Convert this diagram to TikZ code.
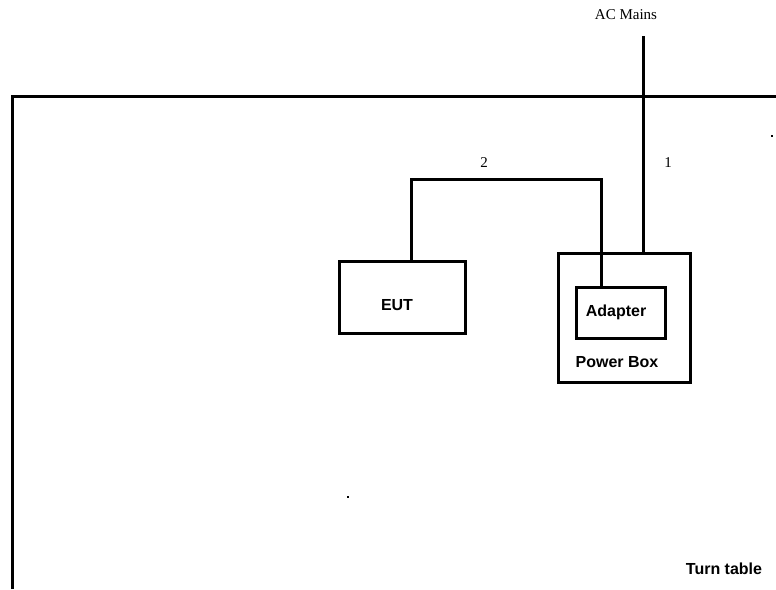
\documentclass[tikz,border=0pt]{standalone}
\usepackage{fontspec}
\setmainfont{Liberation Serif}
\newfontfamily\arialb{Liberation Sans}
\begin{document}
\begin{tikzpicture}[x=1pt,y=-1pt,line width=3pt,
  boxlbl/.style={font=\arialb\bfseries\fontsize{16}{18}\selectfont,inner sep=0pt},
  serlbl/.style={font=\fontsize{15}{17}\selectfont,inner sep=0pt},
  speck/.style={fill=black,inner sep=0pt,minimum size=2pt,draw=none}]
\useasboundingbox (0,0) rectangle (776,589);
% turn table outline
\coordinate (ttbl) at (12,589);
\coordinate (tttl) at (12,96);
\coordinate (tttr) at (776,96);
\draw (ttbl) -- (tttl) -- (tttr);
\node[boxlbl] (tt) at (724,569) {Turn table};
% power box and adapter
\node[draw,minimum width=132pt,minimum height=129pt,inner sep=0pt] (pbox) at (624,317.5) {};
\node[draw,minimum width=89pt,minimum height=51pt,inner sep=0pt] (adapter) at (620.5,312.5) {};
\node[boxlbl] (adlbl) at (616,312) {Adapter};
\node[boxlbl] (pblbl) at (617,362) {Power Box};
% EUT
\node[draw,minimum width=126pt,minimum height=72pt,inner sep=0pt] (eut) at (402,297) {};
\node[boxlbl] (eutlbl) at (397,305) {EUT};
% AC mains
\node[serlbl] (ac) at (626,15) {AC Mains};
\coordinate (acend) at (643,36);
\draw (acend) -- (pbox.north -| acend);
\node[serlbl] (l1) at (668,163) {1};
% cable 2
\coordinate (c2a) at (601,179);
\coordinate (c2b) at (411,179);
\draw (adapter.north -| c2a) -- (c2a) -- (c2b) -- (eut.north -| c2b);
\node[serlbl] (l2) at (484,163) {2};
% specks
\node[speck] (s1) at (772,136) {};
\node[speck] (s2) at (348,497) {};
\end{tikzpicture}
\end{document}
